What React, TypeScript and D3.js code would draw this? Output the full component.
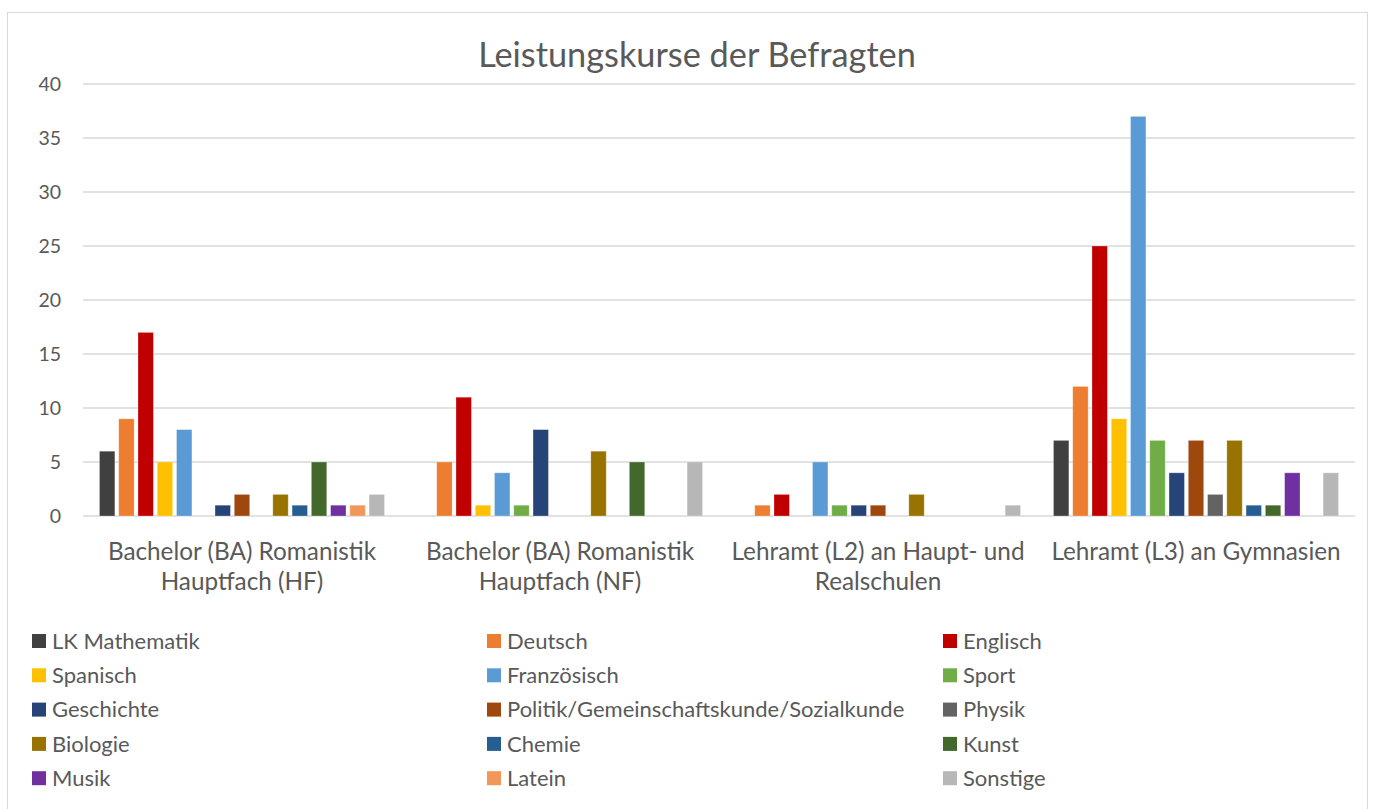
import React from "react";
import * as d3 from "d3";

const categories: string[][] = [
  ["Bachelor (BA) Romanistik", "Hauptfach (HF)"],
  ["Bachelor (BA) Romanistik", "Hauptfach (NF)"],
  ["Lehramt (L2) an Haupt- und", "Realschulen"],
  ["Lehramt (L3) an Gymnasien"],
];

const seriesNames = [
  "LK Mathematik", "Deutsch", "Englisch", "Spanisch", "Französisch", "Sport",
  "Geschichte", "Politik/Gemeinschaftskunde/Sozialkunde", "Physik", "Biologie",
  "Chemie", "Kunst", "Musik", "Latein", "Sonstige",
];

const seriesColors = [
  "#404040", "#ED7D31", "#C00000", "#FFC000", "#5B9BD5", "#70AD47",
  "#264478", "#9E480E", "#636363", "#997300", "#255E91", "#43682B",
  "#7030A0", "#F1975A", "#B7B7B7",
];

// values[series][category]
const mathematik = [6, 0, 0, 7];
const deutsch = [9, 5, 1, 12];
const englisch = [17, 11, 2, 25];
const spanisch = [5, 1, 0, 9];
const franzoesisch = [8, 4, 5, 37];
const sport = [0, 1, 1, 7];
const geschichte = [1, 8, 1, 4];
const politik = [2, 0, 1, 7];
const physik = [0, 0, 0, 2];
const biologie = [2, 6, 2, 7];
const chemie = [1, 0, 0, 1];
const kunst = [5, 5, 0, 1];
const musik = [1, 0, 0, 4];
const latein = [1, 0, 0, 0];
const sonstige = [2, 5, 1, 4];

const seriesValues = [
  mathematik, deutsch, englisch, spanisch, franzoesisch, sport, geschichte,
  politik, physik, biologie, chemie, kunst, musik, latein, sonstige,
];

const yTicks = [0, 5, 10, 15, 20, 25, 30, 35, 40];

const W = 1375;
const H = 809;
const FONT = "Lato, 'Open Sans', sans-serif";
const TXT = "#595959";

export default function App() {
  const left = 83, right = 1355, top = 84, bottom = 516;
  const y = d3.scaleLinear().domain([0, 40]).range([bottom, top]);
  const x0 = d3.scaleBand<number>().domain(d3.range(categories.length)).range([left, right]).padding(0);
  const x1 = d3
    .scaleBand<number>()
    .domain(d3.range(seriesNames.length))
    .range([0, x0.bandwidth()])
    .paddingInner(0.2)
    .paddingOuter(0.855);

  const legendCols = [32, 487, 943];
  const legendRows = [641, 675.3, 709.6, 743.9, 778.2];

  return (
    <svg width={W} height={H} style={{ position: "absolute", left: 0, top: 0 }} fontFamily={FONT}>
      <rect x={0} y={0} width={W} height={H} fill="#fff" />
      <rect x={7.5} y={12.5} width={1360} height={H} fill="#fff" stroke="#d9d9d9" strokeWidth={1} />
      <text x={697} y={67} textAnchor="middle" fontSize={34.3} fill={TXT}>
        Leistungskurse der Befragten
      </text>
      {yTicks.map((t) => (
        <g key={t}>
          <line x1={left} x2={right} y1={y(t)} y2={y(t)} stroke="#d9d9d9" strokeWidth={t === 0 ? 1.5 : 1.3} />
          <text x={61} y={y(t)} dy="0.35em" textAnchor="end" fontSize={19.5} fill={TXT}>
            {t}
          </text>
        </g>
      ))}
      {categories.map((c, ci) => (
        <g key={ci}>
          {seriesValues.map((vals, si) =>
            vals[ci] > 0 ? (
              <rect
                key={si}
                x={(x0(ci) as number) + (x1(si) as number)}
                y={y(vals[ci])}
                width={x1.bandwidth()}
                height={bottom - y(vals[ci])}
                fill={seriesColors[si]}
                stroke="#ffffff"
                strokeOpacity={0.35}
                strokeWidth={0.8}
              />
            ) : null
          )}
          {c.map((line, li) => (
            <text
              key={li}
              x={(x0(ci) as number) + x0.bandwidth() / 2}
              y={560 + li * 30}
              textAnchor="middle"
              fontSize={24.3}
              fill={TXT}
            >
              {line}
            </text>
          ))}
        </g>
      ))}
      {seriesNames.map((name, i) => {
        const col = i % 3;
        const row = Math.floor(i / 3);
        const lx = legendCols[col];
        const ly = legendRows[row];
        return (
          <g key={name}>
            <rect x={lx} y={ly - 7} width={14} height={14} fill={seriesColors[i]} />
            <text x={lx + 20} y={ly} dy="0.35em" fontSize={22} fill={TXT}>
              {name}
            </text>
          </g>
        );
      })}
    </svg>
  );
}
